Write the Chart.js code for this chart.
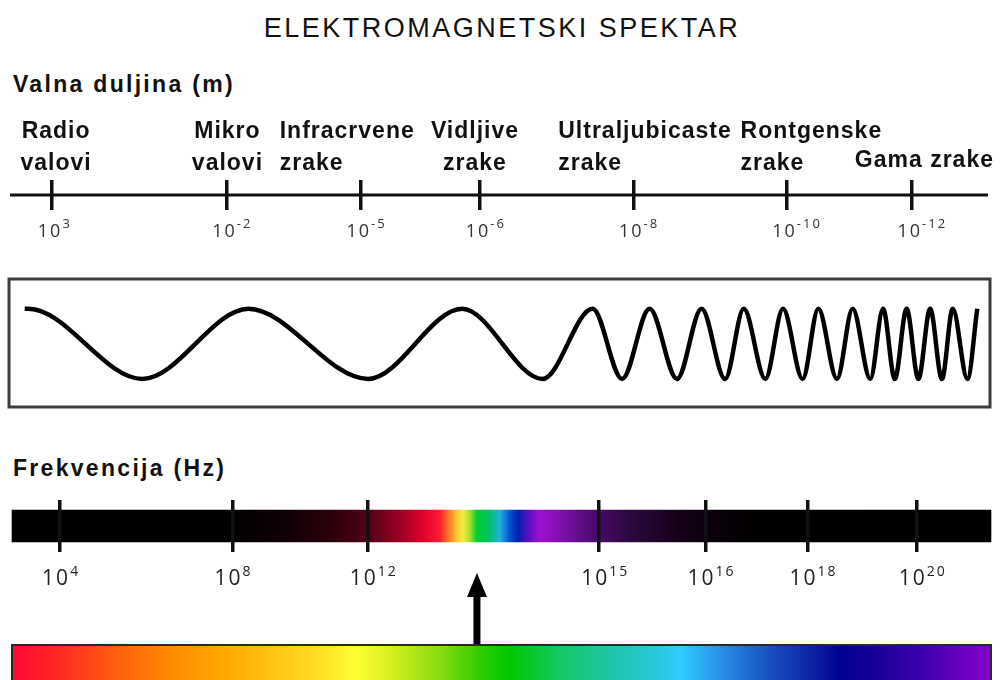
<!DOCTYPE html>
<html>
<head>
<meta charset="utf-8">
<script src="https://cdn.jsdelivr.net/npm/chart.js@4.4.1/dist/chart.umd.min.js"></script>
<style>
  body { margin: 0; background: #fff; }
  #page { position: relative; width: 1002px; height: 680px; overflow: hidden; font-family: "Liberation Sans", Arial, sans-serif; }
  .txt { position: absolute; white-space: nowrap; color: #111; }
  #title { left: 1px; width: 1002px; text-align: center; top: 15px; font-size: 27px; line-height: 27px; letter-spacing: 2.5px; }
  .head { left: 13px; font-weight: bold; font-size: 23px; line-height: 23px; letter-spacing: 2.3px; }
  canvas { position: absolute; left: 0; }
</style>
</head>
<body>
<div id="page">
  <div id="title" class="txt">ELEKTROMAGNETSKI SPEKTAR</div>
  <div class="txt head" style="top:73px">Valna duljina (m)</div>
  <div class="txt head" style="top:457px">Frekvencija (Hz)</div>
  <canvas id="waveAxis" width="1002" height="160" style="top:100px"></canvas>
  <canvas id="wave" width="1002" height="150" style="top:270px"></canvas>
  <canvas id="freqAxis" width="1002" height="130" style="top:490px"></canvas>
  <canvas id="rainbow" width="1002" height="120" style="top:560px"></canvas>
</div>
<script>
// valna duljina - os
const waveNames = [['Radio', 'valovi'], ['Mikro', 'valovi'], ['Infracrvene', 'zrake'], ['Vidljive', 'zrake'],
    ['Ultraljubicaste', 'zrake'], ['Rontgenske', 'zrake'], ['Gama zrake']];
const waveTickPos = [5.2, 22.6, 36.0, 47.9, 63.2, 78.5, 91.0];
const waveExp = ['3', '-2', '-5', '-6', '-8', '-10', '-12'];
const waveAxisEnds = [1.0, 98.6];

// val (vrhovi i dolovi ocitani sa slike)
const waveX = [1.6, 2.0, 13.6, 24.4, 36.6, 46.2, 54.4, 59.5, 62.5, 65.3, 68.1, 70.6, 73.0, 74.9, 77.1,
    78.9, 80.9, 82.5, 84.4, 86.0, 87.8, 89.1, 90.3, 91.5, 92.7, 93.9, 95.1, 96.2, 97.7, 98.7];
const waveY = [1, 1, -1, 1, -1, 1, -1, 1, -1, 1, -1, 1, -1, 1, -1,
    1, -1, 1, -1, 1, -1, 1, -1, 1, -1, 1, -1, 1, -1, 1];

// frekvencija - os
const freqTickPos = [6.0, 23.2, 36.7, 59.8, 70.4, 80.6, 91.5];
const freqExp = ['4', '8', '12', '15', '16', '18', '20'];
const freqBar = [1.2, 98.9];

// strelica i duga
const arrowX = 47.6;
const arrowLevels = [3.5, 9.5];
const rainbowTop = 3.5;

// boje prijelaza
const freqStopPos = [1.2, 23.0, 28.9, 33.4, 36.9, 39.9, 42.2, 43.9, 44.7, 45.5, 46.2, 46.9, 47.6, 48.9,
    49.9, 50.9, 51.7, 52.6, 53.9, 55.9, 59.4, 62.9, 67.9, 73.9, 98.9];
const freqStopColor = ['#000000', '#000000', '#120005', '#2e000c', '#550018', '#9a0022', '#e0002a', '#ff1a30',
    '#ff7020', '#ffc030', '#f0f040', '#a0e030', '#00cc30', '#00c070', '#20b0e0', '#0050d0', '#0020b0',
    '#5010c0', '#a010d0', '#8010b0', '#4a0a6a', '#2c0840', '#140018', '#030003', '#000000'];
const rainbowStopPos = [1.3, 6.0, 11.0, 17.0, 22.0, 27.9, 32.9, 35.4, 38.9, 43.9, 47.9, 50.9, 55.9, 60.9,
    65.4, 67.9, 71.9, 76.8, 81.8, 83.8, 87.8, 92.8, 98.8];
const rainbowStopColor = ['#ff0a36', '#ff2a22', '#ff5a10', '#ff8a00', '#ffa800', '#ffc818', '#ffe628', '#ffff33',
    '#d8f020', '#88dc10', '#30cc00', '#00c800', '#14c864', '#20c4a8', '#28c8d8', '#30ccff', '#2890e8',
    '#1850c0', '#0a1aa0', '#000090', '#1c0098', '#4400b0', '#8800cc'];

Chart.defaults.animation = false;
Chart.defaults.events = [];
Chart.defaults.layout.autoPadding = false;
Chart.defaults.plugins.legend.display = false;
Chart.defaults.plugins.tooltip.enabled = false;

function makeGradient(chart, from, to, stops, colors) {
    const x = chart.scales.x;
    const x0 = x.getPixelForValue(from);
    const x1 = x.getPixelForValue(to);
    const g = chart.ctx.createLinearGradient(x0, 0, x1, 0);
    stops.forEach((s, i) => {
        const t = Math.min(1, Math.max(0, (s - from) / (to - from)));
        g.addColorStop(t, colors[i]);
    });
    return g;
}

// "10" + eksponent ispod osi
function powerLabels(pos, exps, st) {
    return {
        id: 'powerLabels',
        afterDraw(chart) {
            const {ctx, chartArea, scales: {x}} = chart;
            ctx.save();
            ctx.fillStyle = st.color;
            ctx.textAlign = 'left';
            ctx.letterSpacing = st.spacing;
            exps.forEach((e, i) => {
                const px = x.getPixelForValue(pos[i]);
                ctx.font = st.baseFont;
                const w = ctx.measureText('10').width;
                const x0 = px - w / 2 + st.shift;
                ctx.fillText('10', x0, chartArea.bottom + st.baseY);
                ctx.font = st.expFont;
                ctx.fillText(e, x0 + w, chartArea.bottom + st.expY);
            });
            ctx.restore();
        }
    };
}

const nameLayout = [
    {align: 'center', dx: 4}, {align: 'center', dx: 1}, {align: 'left', dx: -81}, {align: 'center', dx: -5},
    {align: 'left', dx: -75}, {align: 'left', dx: -46}, {align: 'left', dx: -57}
];

const categoryLabels = {
    id: 'categoryLabels',
    afterDraw(chart) {
        const {ctx, chartArea, scales: {x}} = chart;
        ctx.save();
        ctx.font = 'bold 23px "Liberation Sans"';
        ctx.fillStyle = '#111';
        ctx.letterSpacing = '1px';
        waveNames.forEach((lines, i) => {
            const lay = nameLayout[i];
            const px = x.getPixelForValue(waveTickPos[i]) + lay.dx;
            ctx.textAlign = lay.align;
            if (lines.length === 1) {
                ctx.fillText(lines[0], px, chartArea.top - 13);
            } else {
                ctx.fillText(lines[0], px, chartArea.top - 42);
                ctx.fillText(lines[1], px, chartArea.top - 10);
            }
        });
        ctx.restore();
    }
};

const frame = {
    id: 'frame',
    afterDraw(chart) {
        const {ctx, chartArea: a} = chart;
        ctx.save();
        ctx.strokeStyle = '#3c3c3c';
        ctx.lineWidth = 3;
        ctx.strokeRect(a.left, a.top, a.width, a.height);
        ctx.restore();
    }
};

function tickScale(pos) {
    return {
        type: 'linear',
        min: 0,
        max: 100,
        afterBuildTicks: (scale) => {
            scale.ticks = pos.map(v => ({value: v}));
        },
        ticks: {display: false, autoSkip: false},
        grid: {color: '#111', lineWidth: 3.5, drawTicks: false, drawOnChartArea: true, z: 1},
        border: {display: false}
    };
}

// 1) valna duljina
new Chart(document.getElementById('waveAxis'), {
    type: 'line',
    data: {
        datasets: [{
            data: waveAxisEnds.map(v => ({x: v, y: 0})),
            borderColor: '#111',
            borderWidth: 3,
            pointRadius: 0
        }]
    },
    options: {
        responsive: false,
        layout: {padding: {top: 80, bottom: 50, left: 0, right: 0}},
        scales: {
            x: tickScale(waveTickPos),
            y: {display: false, min: -1, max: 1}
        }
    },
    plugins: [categoryLabels, powerLabels(waveTickPos, waveExp, {
        color: '#333', spacing: '2px', shift: -2,
        baseFont: '18px "Open Sans"', expFont: '13px "Open Sans"', baseY: 27, expY: 18
    })]
});

// 2) val
new Chart(document.getElementById('wave'), {
    type: 'line',
    data: {
        datasets: [{
            data: waveX.map((x, i) => ({x: x, y: waveY[i]})),
            borderColor: '#000',
            borderWidth: 4.5,
            pointRadius: 0,
            cubicInterpolationMode: 'monotone'
        }]
    },
    options: {
        responsive: false,
        layout: {padding: {top: 9, bottom: 13, left: 9, right: 12}},
        scales: {
            x: {type: 'linear', display: false, min: 0, max: 100},
            y: {display: false, min: -1.8, max: 1.85}
        }
    },
    plugins: [frame]
});

// 3) frekvencija
new Chart(document.getElementById('freqAxis'), {
    type: 'bar',
    data: {
        labels: ['f'],
        datasets: [{
            data: [freqBar],
            barThickness: 32,
            borderWidth: 0,
            backgroundColor: (c) => c.chart.chartArea
                ? makeGradient(c.chart, freqBar[0], freqBar[1], freqStopPos, freqStopColor) : '#000'
        }]
    },
    options: {
        indexAxis: 'y',
        responsive: false,
        layout: {padding: {top: 10, bottom: 68, left: 0, right: 0}},
        scales: {
            x: tickScale(freqTickPos),
            y: {display: false}
        }
    },
    plugins: [powerLabels(freqTickPos, freqExp, {
        color: '#222', spacing: '2px', shift: -4,
        baseFont: '21px "Open Sans"', expFont: '14px "Open Sans"', baseY: 33, expY: 24
    })]
});

// 4) duga + strelica
const head = document.createElement('canvas');
head.width = 20;
head.height = 24;
const hc = head.getContext('2d');
hc.fillStyle = '#000';
hc.beginPath();
hc.moveTo(10, 0);
hc.lineTo(20, 24);
hc.lineTo(0, 24);
hc.closePath();
hc.fill();

new Chart(document.getElementById('rainbow'), {
    type: 'line',
    data: {
        datasets: [{
            data: [{x: freqBar[0], y: 0}, {x: freqBar[0], y: rainbowTop}, {x: freqBar[1], y: rainbowTop}, {x: freqBar[1], y: 0}],
            borderColor: '#2a2a2a',
            borderWidth: 2,
            pointRadius: 0,
            fill: 'start',
            backgroundColor: (c) => c.chart.chartArea
                ? makeGradient(c.chart, freqBar[0], freqBar[1], rainbowStopPos, rainbowStopColor) : '#f00'
        }, {
            data: arrowLevels.map(v => ({x: arrowX, y: v})),
            borderColor: '#000',
            borderWidth: 7,
            pointRadius: [0, 10],
            pointStyle: head,
            pointBorderWidth: 0
        }]
    },
    options: {
        responsive: false,
        layout: {padding: 0},
        scales: {
            x: {type: 'linear', display: false, min: 0, max: 100},
            y: {display: false, min: 0, max: 12}
        }
    }
});
</script>
</body>
</html>
